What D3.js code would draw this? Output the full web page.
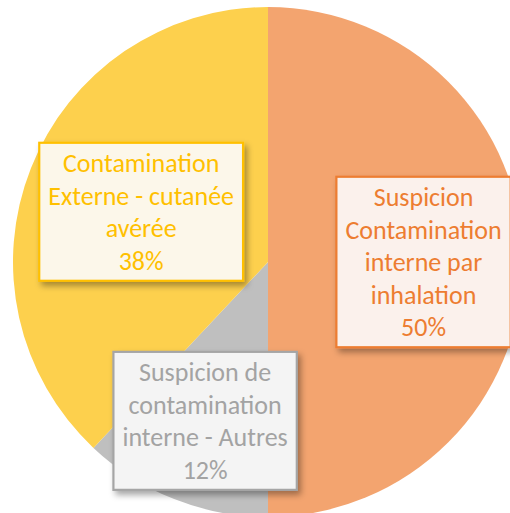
<!DOCTYPE html>
<html lang="fr">
<head>
<meta charset="UTF-8">
<title>Contamination</title>
<script src="https://d3js.org/d3.v7.min.js"></script>
<style>
  html, body { margin: 0; padding: 0; background: #fff; overflow: hidden; }
</style>
</head>
<body>
<svg id="chart"></svg>
<script>
// données
var categories = [
  "Suspicion Contamination interne par inhalation",
  "Suspicion de contamination interne - Autres",
  "Contamination Externe - cutanée avérée"
];
var values = [50, 12, 38];
var labelLines = [
  ["Suspicion", "Contamination", "interne par", "inhalation"],
  ["Suspicion de", "contamination", "interne - Autres"],
  ["Contamination", "Externe - cutanée", "avérée"]
];

var width = 510, height = 513;
var cx = 268, cy = 262, radius = 255;

// styles par part
var sliceColors = ["#F3A46F", "#BFBFBF", "#FDD04D"];
var lineColors  = ["#ED7D31", "#A5A5A5", "#FFC000"];
var boxFills    = ["#FBF1EC", "#F4F4F4", "#FCF7EA"];
var textColors  = ["#ED7D31", "#A3A3A3", "#FFC000"];
var labelRadius = [0.61, 0.67, 0.535]; // fraction du rayon
var lineH = 32.5;

var svg = d3.select("#chart").attr("width", width).attr("height", height);

var defs = svg.append("defs");
defs.append("filter")
    .attr("id", "shadow")
    .attr("x", "-20%").attr("y", "-20%").attr("width", "140%").attr("height", "140%")
  .append("feDropShadow")
    .attr("dx", 3).attr("dy", 4).attr("stdDeviation", 3)
    .attr("flood-color", "#000").attr("flood-opacity", 0.35);

var pie = d3.pie().sort(null).value(function(d) { return d; });
var arcs = pie(values);
var arc = d3.arc().innerRadius(0).outerRadius(radius);

var g = svg.append("g").attr("transform", "translate(" + cx + "," + cy + ")");

g.selectAll("path.slice")
  .data(arcs)
  .enter()
  .append("path")
  .attr("class", "slice")
  .attr("d", arc)
  .attr("fill", function(d, i) { return sliceColors[i]; });

var total = d3.sum(values);

arcs.forEach(function(d, i) {
  var a = (d.startAngle + d.endAngle) / 2;
  var r = radius * labelRadius[i];
  var x = Math.sin(a) * r;
  var y = -Math.cos(a) * r;
  var lines = labelLines[i].concat([Math.round(values[i] / total * 100) + "%"]);

  var lg = g.append("g").attr("class", "label").attr("transform", "translate(" + x + "," + y + ")");
  var rect = lg.append("rect");
  var text = lg.append("text")
    .attr("text-anchor", "middle")
    .attr("font-family", "Carlito, Lato, 'Open Sans', sans-serif")
    .attr("font-size", "26px")
    .attr("fill", textColors[i]);

  lines.forEach(function(s, j) {
    text.append("tspan")
      .attr("x", 0)
      .attr("y", (j - (lines.length - 1) / 2) * lineH)
      .attr("dy", "0.35em")
      .text(s);
  });

  var bb = text.node().getBBox();
  var w = bb.width + 18;
  var h = lines.length * lineH + 8;
  rect.attr("x", -w / 2).attr("y", -h / 2)
    .attr("width", w).attr("height", h)
    .attr("fill", boxFills[i])
    .attr("stroke", lineColors[i])
    .attr("stroke-width", 2.2)
    .attr("filter", "url(#shadow)");
});
</script>
</body>
</html>
